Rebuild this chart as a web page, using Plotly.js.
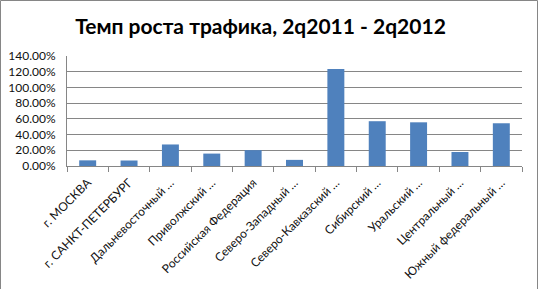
<!DOCTYPE html>
<html>
<head>
<meta charset="utf-8">
<script src="https://cdn.plot.ly/plotly-3.0.1.min.js"></script>
<style>
html,body{margin:0;padding:0;background:#fff;}
#chart{width:538px;height:289px;}
</style>
</head>
<body>
<div id="chart"></div>
<script>
const categories = [
  "г. МОСКВА",
  "г. САНКТ-ПЕТЕРБУРГ",
  "Дальневосточный …",
  "Приволжский …",
  "Российская Федерация",
  "Северо-Западный …",
  "Северо-Кавказский …",
  "Сибирский …",
  "Уральский …",
  "Центральный …",
  "Южный федеральный …"
];
const growth = [0.072, 0.070, 0.274, 0.158, 0.202, 0.078, 1.236, 0.570, 0.556, 0.178, 0.544];
const yTicks = [0, 0.2, 0.4, 0.6, 0.8, 1.0, 1.2, 1.4];

const L = 67, R = 16, T = 56, B = 123, W = 538, H = 289;
const pw = W - L - R, ph = H - T - B;

const trace = {
  type: 'bar',
  x: categories,
  y: growth,
  marker: {color: '#4F81BD'},
  width: 0.41,
  hoverinfo: 'none'
};

const layout = {
  width: W, height: H,
  margin: {l: L, r: R, t: T, b: B, pad: 0},
  paper_bgcolor: '#ffffff',
  plot_bgcolor: '#ffffff',
  showlegend: false,
  title: {
    text: 'Темп роста трафика, 2q2011 - 2q2012',
    font: {family: 'Lato, "Open Sans", sans-serif', size: 21, color: '#000', weight: 'bold'},
    x: 260.5 / W, xanchor: 'center', xref: 'container',
    y: 1 - 27 / H, yanchor: 'middle', yref: 'container'
  },
  xaxis: {
    type: 'category',
    tickangle: -45,
    tickson: 'boundaries',
    ticks: 'outside',
    ticklen: 5,
    tickcolor: '#868686',
    showline: true,
    linecolor: '#868686',
    linewidth: 1,
    showgrid: false,
    ticklabelstandoff: 4,
    tickfont: {family: 'Lato, "Open Sans", sans-serif', size: 12, color: '#111'},
    fixedrange: true
  },
  yaxis: {
    range: [0, 1.4],
    tickvals: yTicks,
    tickformat: '.2%',
    showline: true,
    linecolor: '#868686',
    linewidth: 1,
    showgrid: true,
    gridcolor: '#868686',
    gridwidth: 1,
    zeroline: false,
    ticks: '',
    ticklabelstandoff: 8,
    tickfont: {family: 'Lato, "Open Sans", sans-serif', size: 12, color: '#111'},
    fixedrange: true
  },
  shapes: [{
    type: 'rect',
    xref: 'paper', yref: 'paper',
    x0: (0.5 - L) / pw, x1: (W - 0.5 - L) / pw,
    y0: (B - (H - 0.5)) / ph, y1: 1 + (T - 0.5) / ph,
    line: {color: '#868686', width: 1},
    fillcolor: 'rgba(0,0,0,0)',
    layer: 'above'
  }]
};

Plotly.newPlot('chart', [trace], layout, {staticPlot: true, displayModeBar: false});
</script>
</body>
</html>
